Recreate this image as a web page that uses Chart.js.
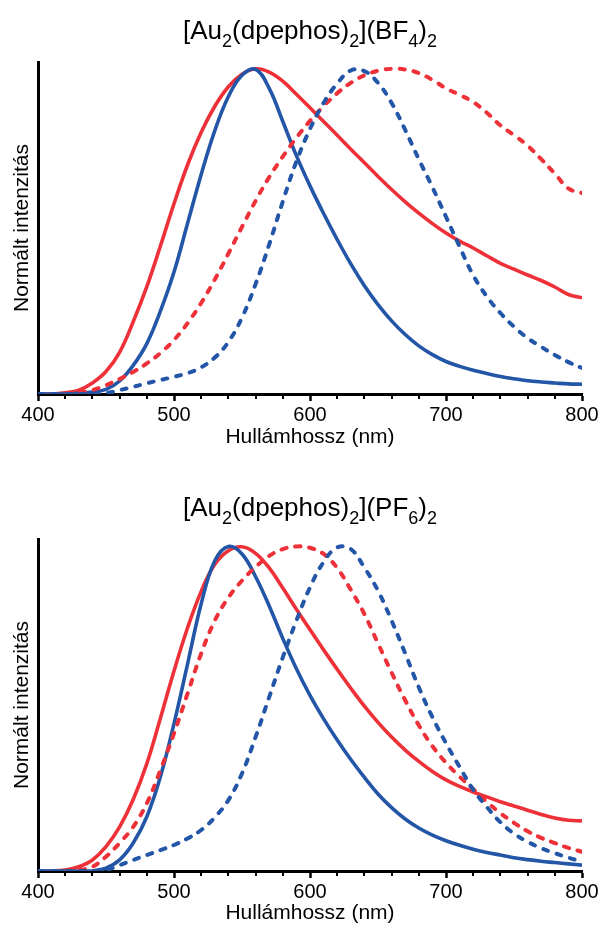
<!DOCTYPE html>
<html><head><meta charset="utf-8">
<script src="https://cdn.jsdelivr.net/npm/chart.js@4.4.0/dist/chart.umd.min.js"></script>
<style>
html,body{margin:0;padding:0;background:#fff;}
#w1{position:absolute;left:0;top:0;width:601px;height:477px;}
#w2{position:absolute;left:0;top:477px;width:601px;height:453px;}
</style></head><body>
<div id="w1"><canvas id="c1" width="601" height="477"></canvas></div>
<div id="w2"><canvas id="c2" width="601" height="453"></canvas></div>
<script>
// Wavelength (nm)
const wavelengths = [400,410,420,430,440,450,460,470,480,490,500,510,520,530,540,550,560,570,580,590,600,
  610,620,630,640,650,660,670,680,690,700,710,720,730,740,750,760,770,780,790,800];

// [Au2(dpephos)2](BF4)2
const bf4RedSolid = [0,0,0.004,0.012,0.034,0.069,0.128,0.222,0.330,0.455,0.585,0.705,0.805,0.885,0.945,0.983,1.000,0.990,0.962,0.922,0.880,
  0.838,0.796,0.753,0.711,0.669,0.629,0.591,0.556,0.524,0.495,0.470,0.449,0.425,0.402,0.384,0.366,0.349,0.329,0.306,0.296];
const bf4BlueSolid = [0,0,0,0.002,0.006,0.014,0.040,0.088,0.155,0.255,0.375,0.525,0.675,0.810,0.915,0.980,0.998,0.940,0.838,0.733,0.640,
  0.555,0.475,0.400,0.333,0.275,0.225,0.183,0.148,0.121,0.100,0.085,0.073,0.063,0.054,0.047,0.041,0.037,0.034,0.031,0.030];
const bf4RedDashed = [0,0,0,0.004,0.012,0.027,0.046,0.068,0.094,0.126,0.166,0.218,0.280,0.352,0.432,0.514,0.594,0.667,0.730,0.788,0.840,
  0.885,0.925,0.957,0.980,0.994,1.000,0.998,0.987,0.966,0.940,0.920,0.898,0.865,0.826,0.796,0.764,0.722,0.678,0.632,0.618];
const bf4BlueDashed = [0,0,0,0,0,0.003,0.012,0.022,0.033,0.043,0.053,0.064,0.082,0.112,0.160,0.235,0.338,0.460,0.592,0.715,0.815,
  0.895,0.955,0.995,0.993,0.957,0.895,0.812,0.722,0.636,0.545,0.453,0.365,0.300,0.249,0.207,0.172,0.145,0.120,0.098,0.080];

// [Au2(dpephos)2](PF6)2
const pf6RedSolid = [0,0,0.003,0.013,0.034,0.075,0.136,0.220,0.330,0.470,0.615,0.748,0.860,0.943,0.985,0.997,0.977,0.932,0.870,0.805,0.742,
  0.680,0.620,0.562,0.507,0.457,0.412,0.372,0.337,0.306,0.280,0.260,0.243,0.228,0.213,0.200,0.187,0.174,0.163,0.156,0.154];
const pf6BlueSolid = [0,0,0,0,0.001,0.009,0.034,0.086,0.167,0.290,0.453,0.637,0.822,0.954,0.998,0.975,0.905,0.815,0.715,0.622,0.540,
  0.468,0.403,0.343,0.288,0.237,0.195,0.160,0.132,0.110,0.093,0.079,0.067,0.057,0.049,0.041,0.035,0.030,0.026,0.022,0.018];
const pf6RedDashed = [0,0,0,0.003,0.013,0.044,0.086,0.136,0.208,0.310,0.423,0.546,0.669,0.770,0.841,0.893,0.935,0.969,0.990,0.998,0.994,
  0.975,0.932,0.865,0.790,0.700,0.610,0.525,0.448,0.384,0.333,0.290,0.252,0.213,0.178,0.148,0.122,0.102,0.086,0.071,0.059];
const pf6BlueDashed = [0,0,0,0,0,0.003,0.018,0.034,0.049,0.064,0.080,0.100,0.126,0.165,0.218,0.300,0.412,0.535,0.657,0.770,0.872,
  0.950,0.995,0.990,0.933,0.862,0.770,0.669,0.565,0.473,0.393,0.320,0.250,0.197,0.150,0.115,0.090,0.070,0.055,0.041,0.029];

// Titles: [text, isSubscript]
const titleBF4 = [['[Au',0],['2',1],['(dpephos)',0],['2',1],['](BF',0],['4',1],[')',0],['2',1]];
const titlePF6 = [['[Au',0],['2',1],['(dpephos)',0],['2',1],['](PF',0],['6',1],[')',0],['2',1]];
const xTickValues = [400,500,600,700,800];
const xAxisTitle = 'Hullámhossz (nm)';
const yAxisTitle = 'Normált intenzitás';

const RED = '#EE3138', BLUE = '#2356A6';
const FONT = '"Liberation Sans", Arial, Helvetica, sans-serif';

const richTitle = {
  id: 'richTitle',
  afterDraw(chart, args, opts) {
    const ctx = chart.ctx;
    const mainF = '26px ' + FONT, subF = '18px ' + FONT;
    ctx.save();
    ctx.fillStyle = '#000';
    ctx.textBaseline = 'alphabetic';
    let total = 0;
    const ws = opts.parts.map(p => { ctx.font = p[1] ? subF : mainF; const w = ctx.measureText(p[0]).width; total += w; return w; });
    let x = (chart.chartArea.left + chart.chartArea.right) / 2 - total / 2;
    opts.parts.forEach((p, i) => {
      ctx.font = p[1] ? subF : mainF;
      ctx.fillText(p[0], x, p[1] ? opts.base + 8 : opts.base);
      x += ws[i];
    });
    ctx.restore();
  }
};

const minorTicks = {
  id: 'minorTicks',
  afterDraw(chart) {
    const xs = chart.scales.x, ctx = chart.ctx;
    ctx.save();
    ctx.strokeStyle = '#000';
    ctx.lineWidth = 2;
    xs.ticks.forEach(t => {
      if (!xTickValues.includes(t.value)) {
        const px = Math.round(xs.getPixelForValue(t.value));
        ctx.beginPath();
        ctx.moveTo(px, xs.top);
        ctx.lineTo(px, xs.top + 5);
        ctx.stroke();
      }
    });
    ctx.restore();
  }
};

function pts(ys) { return wavelengths.map((w, i) => ({x: w, y: ys[i]})); }

function ds(ys, color, dashed) {
  return {
    data: pts(ys),
    borderColor: color,
    borderWidth: dashed ? 4 : 3.6,
    borderDash: dashed ? [5, 9] : [],
    borderCapStyle: dashed ? 'round' : 'butt',
    borderJoinStyle: 'round',
    pointRadius: 0,
    tension: 0.4,
    fill: false
  };
}

function makeChart(id, parts, series, xAxisH, xTitlePad) {
  return new Chart(document.getElementById(id), {
    type: 'line',
    data: {
      datasets: [
        ds(series[3], BLUE, true),
        ds(series[2], RED, true),
        ds(series[1], BLUE, false),
        ds(series[0], RED, false)
      ]
    },
    options: {
      responsive: false,
      devicePixelRatio: 1,
      animation: false,
      events: [],
      layout: {padding: {top: 62, right: 19, left: 0, bottom: 0}},
      plugins: {
        legend: {display: false},
        tooltip: {enabled: false},
        title: {display: false},
        richTitle: {parts: parts, base: 39}
      },
      scales: {
        x: {
          type: 'linear', min: 400, max: 800, position: 'bottom',
          afterFit: s => { s.height = xAxisH; },
          ticks: {
            stepSize: 20, autoSkip: false, maxRotation: 0, minRotation: 0,
            callback: v => xTickValues.includes(v) ? String(v) : '',
            font: {family: FONT, size: 20}, color: '#000', padding: 2
          },
          grid: {
            display: true, drawOnChartArea: false, drawTicks: true, tickLength: 7, tickWidth: 2.5,
            tickColor: c => (c.tick && xTickValues.includes(c.tick.value)) ? '#000' : 'rgba(0,0,0,0)'
          },
          border: {display: true, color: '#000', width: 3},
          title: {display: true, text: xAxisTitle, font: {family: FONT, size: 21}, color: '#000', padding: {top: 0, bottom: xTitlePad}}
        },
        y: {
          type: 'linear', min: 0, max: 1.021,
          afterFit: s => { s.width = 38; },
          ticks: {display: false},
          grid: {display: false, drawTicks: false},
          border: {display: true, color: '#000', width: 3},
          title: {display: true, text: yAxisTitle, font: {family: FONT, size: 21}, color: '#000', padding: {top: 10, bottom: 0}}
        }
      }
    },
    plugins: [richTitle, minorTicks]
  });
}

makeChart('c1', titleBF4, [bf4RedSolid, bf4BlueSolid, bf4RedDashed, bf4BlueDashed], 83, 27);
makeChart('c2', titlePF6, [pf6RedSolid, pf6BlueSolid, pf6RedDashed, pf6BlueDashed], 59, 4);
</script>
</body></html>
